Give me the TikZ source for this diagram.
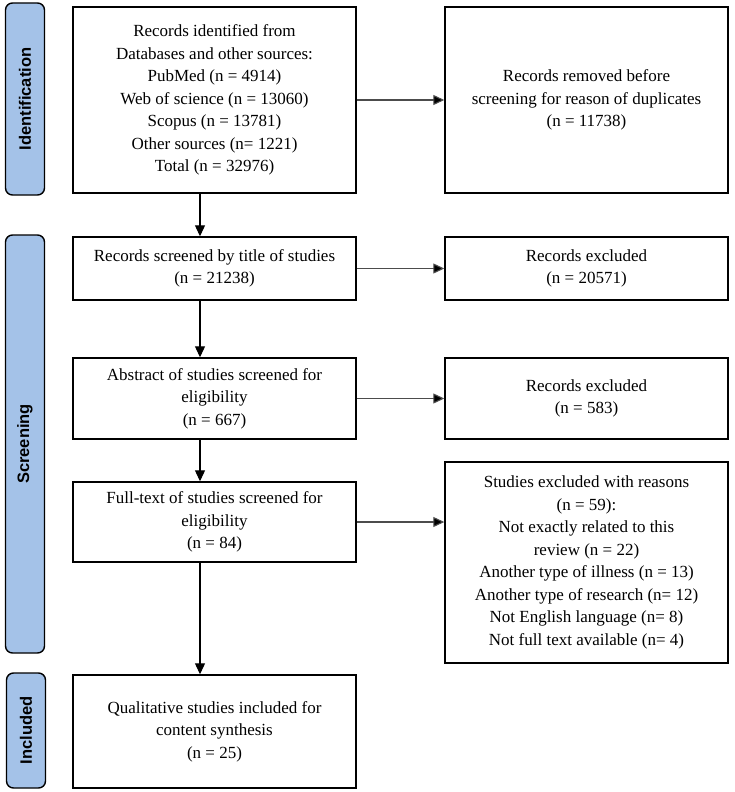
\documentclass[tikz,border=0pt]{standalone}
\usepackage{fontspec}
\setmainfont{Liberation Serif}
\newfontfamily\lsans{Liberation Sans}
\usetikzlibrary{arrows.meta}
\definecolor{sideblue}{HTML}{A4C2E8}
\begin{document}
\begin{tikzpicture}[x=1pt,y=-1pt,
 box/.style={draw=black, line width=1.4pt, fill=white, align=center, font=\fontsize{17}{22.5}\selectfont, inner sep=0pt, minimum width=283pt},
 side/.style={draw=black, line width=1.4pt, fill=sideblue, rounded corners=7pt, font=\lsans\bfseries\fontsize{16.5}{18}\selectfont, rotate=90, minimum height=39pt, inner sep=0pt},
 harr/.style={draw=black!70, line width=1.1pt, -{Triangle[length=11pt,width=10pt,fill=black]}},
 varr/.style={draw=black, line width=1.1pt, -{Triangle[length=11pt,width=10pt]}}]
\useasboundingbox (0,0) rectangle (734,792);

% side labels
\node[side, minimum width=192pt] (sid) at (25,99) {Identification};
\node[side, minimum width=418pt] (sscr) at (25,444) {Screening};
\node[side, minimum width=115pt] (sinc) at (26,730.5) {Included};

% boxes
\node[box, minimum height=186pt] (b1) at (214.5,100) {Records identified from\\Databases and other sources:\\PubMed (n = 4914)\\Web of science (n = 13060)\\Scopus (n = 13781)\\Other sources (n= 1221)\\Total (n = 32976)};
\node[box, minimum height=186pt] (b2) at (586.5,100) {Records removed before\\screening for reason of duplicates\\(n = 11738)};
\node[box, minimum height=63pt] (b3) at (214.5,268.5) {Records screened by title of studies\\(n = 21238)};
\node[box, minimum height=63pt] (b4) at (586.5,268.5) {Records excluded\\(n = 20571)};
\node[box, minimum height=81pt] (b5) at (214.5,398.5) {Abstract of studies screened for\\eligibility\\(n = 667)};
\node[box, minimum height=81pt] (b6) at (586.5,398.5) {Records excluded\\(n = 583)};
\node[box, minimum height=80pt] (b7) at (214.5,522) {Full-text of studies screened for\\eligibility\\(n = 84)};
\node[box, minimum height=201pt] (b8) at (586.5,562.5) {Studies excluded with reasons\\(n = 59):\\Not exactly related to this\\review (n = 22)\\Another type of illness (n = 13)\\Another type of research (n= 12)\\Not English language (n= 8)\\Not full text available (n= 4)};
\node[box, minimum height=113pt] (b9) at (214.5,731.5) {Qualitative studies included for\\content synthesis\\(n = 25)};

% connectors
\coordinate (ax) at (200,0);
\draw[varr] (b1.south -| ax) -- (b3.north -| ax);
\draw[varr] (b3.south -| ax) -- (b5.north -| ax);
\draw[varr] (b5.south -| ax) -- (b7.north -| ax);
\draw[varr] (b7.south -| ax) -- (b9.north -| ax);
\draw[harr] (b1.east) -- (b2.west);
\draw[harr] (b3.east) -- (b4.west);
\draw[harr] (b5.east) -- (b6.west);
\draw[harr] (b7.east) -- (b7.east -| b8.west);
\end{tikzpicture}
\end{document}
